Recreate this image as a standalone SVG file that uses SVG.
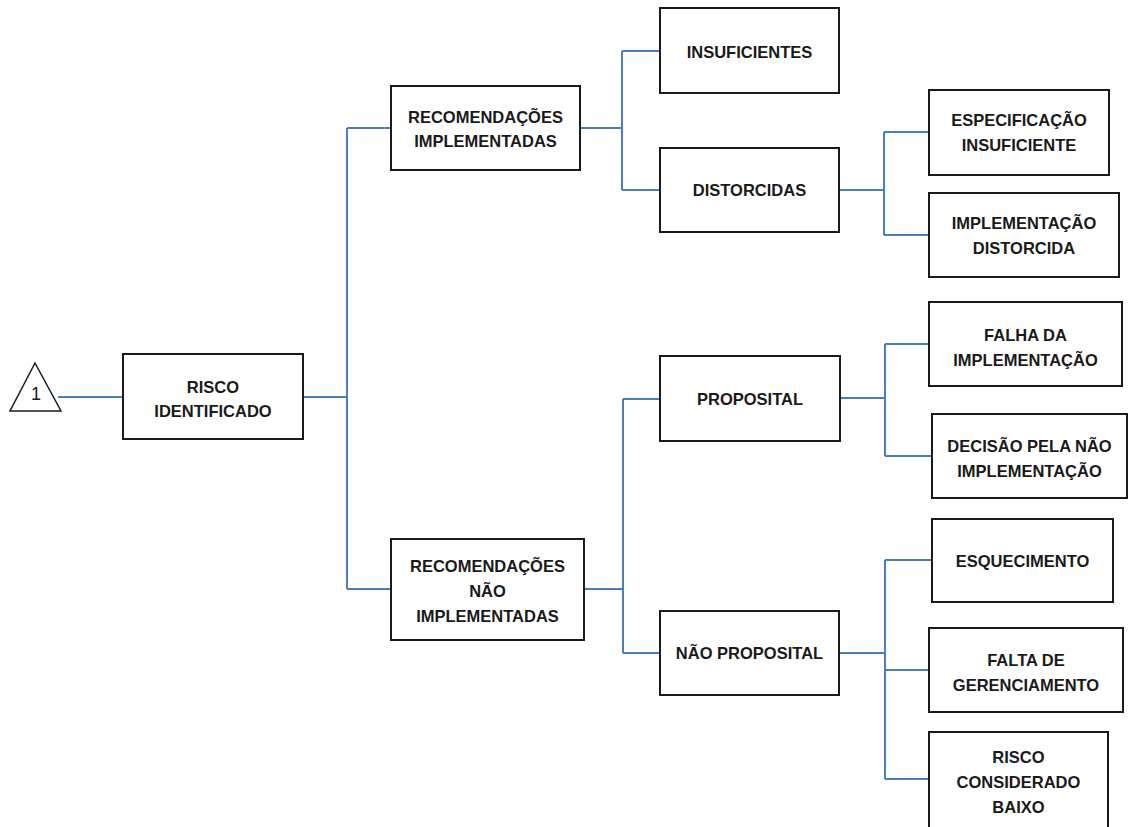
<svg xmlns="http://www.w3.org/2000/svg" width="1132" height="827" viewBox="0 0 1132 827">
<style>
.box{fill:#ffffff;stroke:#1a1a1a;stroke-width:2}
.t{font-family:"Liberation Sans",Arial,sans-serif;font-weight:bold;font-size:16.5px;fill:#1a1a1a;text-anchor:middle}
.c{fill:none;stroke:#4a7ebb;stroke-width:2}
</style>
<rect width="1132" height="827" fill="#ffffff"/>
<g id="connectors">
<path class="c" d="M58,397H123"/>
<path class="c" d="M303,397H347M347,128V589M347,128H391M347,589H391"/>
<path class="c" d="M580,128H622M622,51V190M622,51H660M622,190H660"/>
<path class="c" d="M584,589H623M623,399V653M623,399H660M623,653H660"/>
<path class="c" d="M839,190H884M884,132V235M884,132H929M884,235H929"/>
<path class="c" d="M840,398H885M885,344V456M885,344H929M885,456H932"/>
<path class="c" d="M839,653H885M885,560V779M885,560H932M885,670H929M885,779H929"/>
</g>
<g id="ref1">
<polygon points="35,363 10,411 61,411" fill="#ffffff" stroke="#1a1a1a" stroke-width="1.5"/>
<text x="36" y="400" style="font-family:'Liberation Sans',Arial,sans-serif;font-size:18px;fill:#1a1a1a;text-anchor:middle">1</text>
</g>
<g id="risco-identificado">
<rect class="box" x="123" y="354" width="180" height="85"/>
<text class="t" x="213" y="393">RISCO</text>
<text class="t" x="213" y="417">IDENTIFICADO</text>
</g>
<g id="rec-implementadas">
<rect class="box" x="391" y="86" width="189" height="84"/>
<text class="t" x="485.5" y="123">RECOMENDAÇÕES</text>
<text class="t" x="485.5" y="147">IMPLEMENTADAS</text>
</g>
<g id="rec-nao-implementadas">
<rect class="box" x="391" y="539" width="193" height="101"/>
<text class="t" x="487.5" y="572">RECOMENDAÇÕES</text>
<text class="t" x="487.5" y="597">NÃO</text>
<text class="t" x="487.5" y="622">IMPLEMENTADAS</text>
</g>
<g id="insuficientes">
<rect class="box" x="660" y="8" width="179" height="85"/>
<text class="t" x="749.5" y="58">INSUFICIENTES</text>
</g>
<g id="distorcidas">
<rect class="box" x="660" y="148" width="179" height="84"/>
<text class="t" x="749.5" y="196">DISTORCIDAS</text>
</g>
<g id="proposital">
<rect class="box" x="660" y="356" width="180" height="85"/>
<text class="t" x="750" y="405">PROPOSITAL</text>
</g>
<g id="nao-proposital">
<rect class="box" x="660" y="611" width="179" height="84"/>
<text class="t" x="749.5" y="659">NÃO PROPOSITAL</text>
</g>
<g id="especificacao-insuficiente">
<rect class="box" x="929" y="90" width="180" height="85"/>
<text class="t" x="1019" y="126">ESPECIFICAÇÃO</text>
<text class="t" x="1019" y="151">INSUFICIENTE</text>
</g>
<g id="implementacao-distorcida">
<rect class="box" x="929" y="193" width="190" height="84"/>
<text class="t" x="1024" y="229">IMPLEMENTAÇÃO</text>
<text class="t" x="1024" y="254">DISTORCIDA</text>
</g>
<g id="falha-implementacao">
<rect class="box" x="929" y="302" width="193" height="84"/>
<text class="t" x="1025.5" y="341">FALHA DA</text>
<text class="t" x="1025.5" y="366">IMPLEMENTAÇÃO</text>
</g>
<g id="decisao-nao-implementacao">
<rect class="box" x="932" y="414" width="195" height="84"/>
<text class="t" x="1029.5" y="452">DECISÃO PELA NÃO</text>
<text class="t" x="1029.5" y="477">IMPLEMENTAÇÃO</text>
</g>
<g id="esquecimento">
<rect class="box" x="932" y="519" width="181" height="83"/>
<text class="t" x="1022.5" y="567">ESQUECIMENTO</text>
</g>
<g id="falta-gerenciamento">
<rect class="box" x="929" y="628" width="194" height="84"/>
<text class="t" x="1026" y="666">FALTA DE</text>
<text class="t" x="1026" y="691">GERENCIAMENTO</text>
</g>
<g id="risco-considerado-baixo">
<rect class="box" x="929" y="732" width="179" height="110"/>
<text class="t" x="1018.5" y="763">RISCO</text>
<text class="t" x="1018.5" y="788">CONSIDERADO</text>
<text class="t" x="1018.5" y="813">BAIXO</text>
</g>
</svg>
